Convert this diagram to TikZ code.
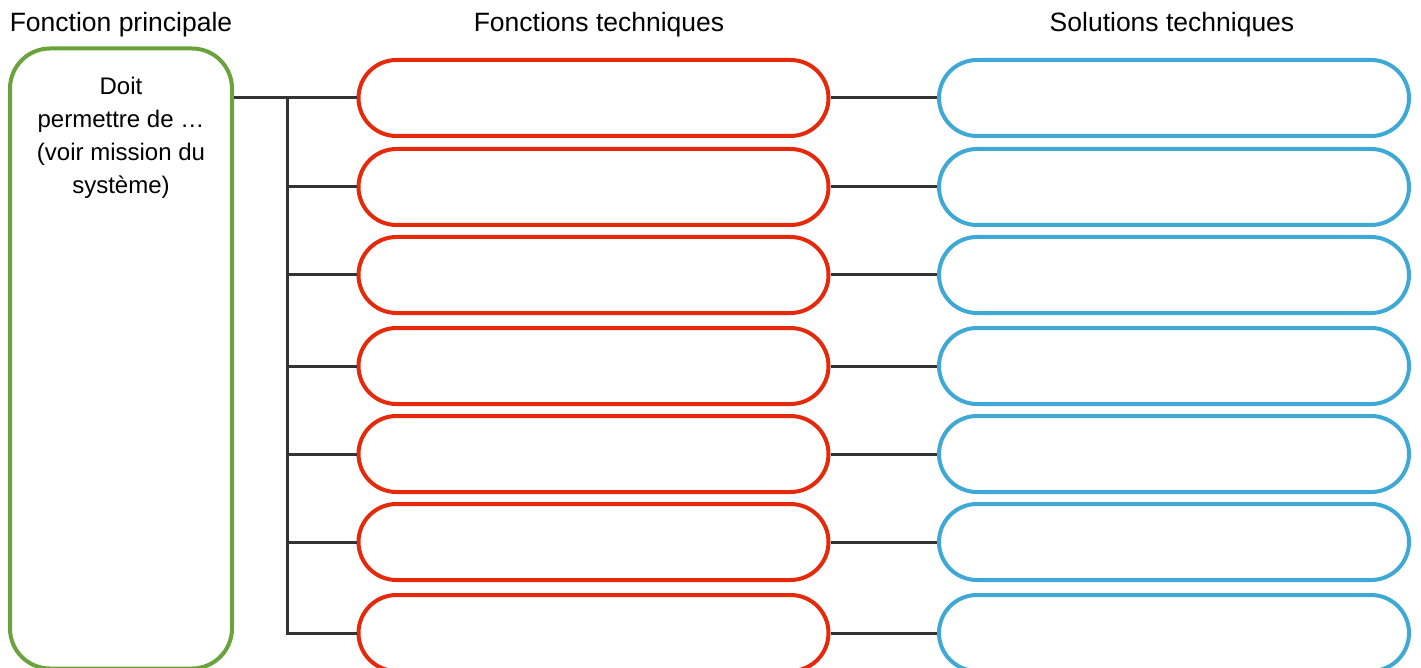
\documentclass[tikz,border=0pt]{standalone}
\usepackage{fontspec}
\setmainfont{Liberation Sans}
\definecolor{redc}{HTML}{E52A0C}
\definecolor{bluec}{HTML}{3FA9D6}
\definecolor{greenc}{HTML}{6AA23C}
\definecolor{linkc}{HTML}{333333}
\begin{document}
\begin{tikzpicture}[x=1pt,y=-1pt,
  title/.style={font=\fontsize{26.5}{30}\selectfont, anchor=base, inner sep=0},
  ftbox/.style={draw=redc, line width=4pt, rounded corners=38pt, minimum width=470pt, minimum height=76pt, inner sep=0},
  stbox/.style={ftbox, draw=bluec},
  fpbox/.style={draw=greenc, line width=4pt, rounded corners=40pt, minimum width=222pt, minimum height=620pt, inner sep=0},
  link/.style={draw=linkc, line width=3pt}]
\useasboundingbox (0,0) rectangle (1421,668);
\clip (0,0) rectangle (1421,668);
\fill[white] (0,0) rectangle (1421,668);

\node[title] (t1) at (121,32) {Fonction principale};
\node[title] (t2) at (599,32) {Fonctions techniques};
\node[title] (t3) at (1172,32) {Solutions techniques};

\node[fpbox] (fp) at (121,358.5) {};
\node[anchor=north, inner sep=0, align=center, font=\fontsize{24}{33}\selectfont] (fptext) at (121,77)
  {Doit\\permettre de \dots\\(voir mission du\\système)};

\foreach \i/\y in {1/98,2/187,3/275,4/366,5/454,6/542,7/633}{
  \node[ftbox] (f\i) at (593.5,\y) {};
  \node[stbox] (s\i) at (1174,\y) {};
  \draw[link] (f\i.east) -- (s\i.west);
}
\coordinate (tr) at (287,98);
\draw[link] (fp.east |- f1) -- (f1.west);
\draw[link] (tr) -- (tr |- f7) -- (f7.west);
\foreach \i in {2,...,6}{
  \draw[link] (tr |- f\i) -- (f\i.west);
}
\end{tikzpicture}
\end{document}
